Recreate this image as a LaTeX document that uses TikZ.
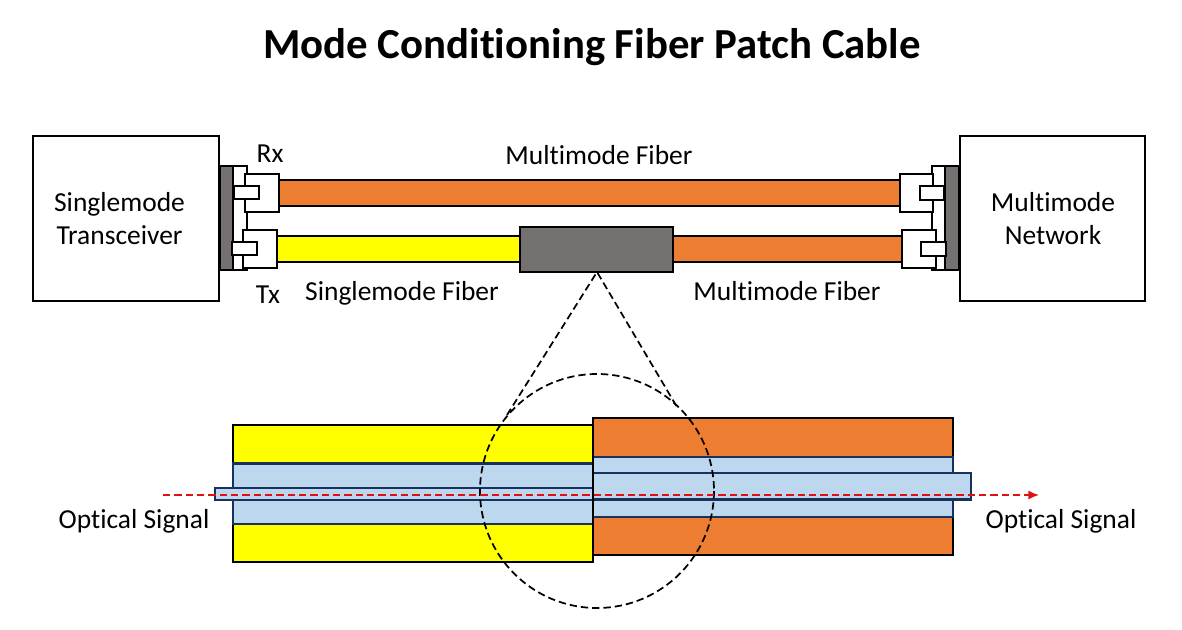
\documentclass[tikz,border=0pt]{standalone}
\usepackage{fontspec}
\setmainfont[Ligatures=NoCommon]{Carlito}
\usepackage{tikz}
\usetikzlibrary{arrows.meta}
\tikzset{
	labelnode/.style={inner sep=0pt, font=\fontsize{20.6}{24.75}\selectfont, align=center},
	boxnode/.style={draw=black, line width=1.5pt, fill=white, inner sep=0pt, minimum width=139pt, minimum height=124pt},
	plug/.style={draw=black, line width=1.9pt, fill=white},
	jacket/.style={draw=black, line width=1.7pt},
	glass/.style={draw=glassEdge, line width=1.7pt, fill=glassFill},
	zoomline/.style={draw=black, line width=1.3pt, dash pattern=on 5.5pt off 3pt},
	signal/.style={draw=signalColor, line width=1.3pt, dash pattern=on 5.5pt off 3pt, -{Latex[length=8pt,width=7pt]}}
}
\begin{document}
\begin{tikzpicture}[x=0.75pt, y=-0.75pt]
% Colors
\definecolor{orangeFiber}{RGB}{237,125,49}
\definecolor{yellowFiber}{RGB}{255,255,0}
\definecolor{greyBody}{RGB}{118,113,113}
\definecolor{glassFill}{RGB}{189,215,238}
\definecolor{glassEdge}{RGB}{23,50,92}
\definecolor{signalColor}{RGB}{224,16,16}
\useasboundingbox (0,0) rectangle (1182,630);
% Title
\node[inner sep=0pt, font=\fontsize{32.1}{38}\selectfont\bfseries] (title) at (592,47) {Mode Conditioning Fiber Patch Cable};
% End boxes
\node[boxnode] (transceiver) at (126,218.5) {};
\node[boxnode] (network) at (1052.5,218.5) {};
\node[labelnode] (transceiverText) at (119.5,219) {Singlemode\\Transceiver};
\node[labelnode] (networkText) at (1053,219) {Multimode\\Network};
% Fibers
\begin{scope}[jacket]
	\draw[fill=orangeFiber] (279,180) rectangle (900,206); % upper
	\draw[fill=yellowFiber] (277,236) rectangle (520,262); % lower left
	\draw[fill=orangeFiber] (673,236) rectangle (902,262); % lower right
	\draw[fill=greyBody] (520,227) rectangle (673,272); % coupler
\end{scope}
% Left connectors
\begin{scope}[plug]
	\draw[fill=greyBody] (220,166) rectangle (233,270);
	\draw (233,166) -- (247,166) -- (247,270) -- (233,270);
	\draw[fill=white] (245,174) rectangle (279,212);
	\draw[fill=white] (234,186) rectangle (259,199);
	\draw[fill=white] (243,230) rectangle (277,268);
	\draw[fill=white] (232,242) rectangle (257,255);
\end{scope}
% Right connectors
\begin{scope}[plug]
	\draw[fill=greyBody] (945,166) rectangle (959,270);
	\draw (945,166) -- (932,166) -- (932,270) -- (945,270);
	\draw[fill=white] (900,174) rectangle (933,212);
	\draw[fill=white] (920,186) rectangle (944,200);
	\draw[fill=white] (902,230) rectangle (936,268);
	\draw (936,268) -- (936,270);
	\draw[fill=white] (921,242) rectangle (946,256);
\end{scope}
% Fiber labels
\node[labelnode] (rxText) at (270,154) {Rx};
\node[labelnode] (txText) at (268,295) {Tx};
\node[labelnode] (upperText) at (599,155) {Multimode Fiber};
\node[labelnode] (singleText) at (402,293) {Singlemode Fiber};
\node[labelnode] (multiText) at (787,291) {Multimode Fiber};
% Cut through the coupler
\begin{scope}
	\draw[jacket, fill=yellowFiber] (233,425) rectangle (593,463.5);
	\draw[jacket, fill=yellowFiber] (233,524) rectangle (593,562);
	\draw[glass] (233,463.5) rectangle (593,524);
	\draw[glass] (215,488) rectangle (593,500);
	\draw[jacket, fill=orangeFiber] (593,418) rectangle (953,457);
	\draw[jacket, fill=orangeFiber] (593,517) rectangle (953,555);
	\draw[glass] (593,457) rectangle (953,517);
	\draw[glass] (593,473) rectangle (971,499.5);
	\draw[jacket] (593,425) -- (593,562);
\end{scope}
% Zoom circle
\coordinate (couplerBottom) at (597,272);
\coordinate (circleLeft) at (507,415);
\coordinate (circleRight) at (677,407);
\draw[zoomline] (597,491) circle (117);
\draw[zoomline] (circleLeft) -- (couplerBottom) -- (circleRight);
% Signal
\coordinate (signalIn) at (163,495);
\coordinate (signalOut) at (1039,495);
\draw[signal] (signalIn) -- (signalOut);
\node[labelnode] (signalInText) at (134,521) {Optical Signal};
\node[labelnode] (signalOutText) at (1061,521) {Optical Signal};
\end{tikzpicture}
\end{document}
